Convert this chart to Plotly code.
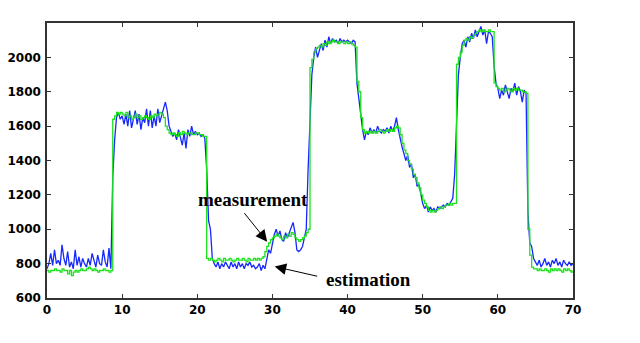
import plotly.graph_objects as go

# sampled every 0.25 s, 0 .. 70
measurement = [
    770, 800, 860, 790, 880, 800, 820, 790, 910, 830, 790, 870, 780, 810, 770, 880, 790, 840, 780, 830,
    800, 780, 830, 790, 860, 810, 780, 850, 800, 790, 880, 810, 780, 890, 770, 1300, 1520, 1650, 1680, 1640,
    1660, 1610, 1670, 1600, 1690, 1590, 1640, 1690, 1610, 1670, 1580, 1650, 1620, 1700, 1600, 1690, 1590, 1660, 1600, 1700,
    1620, 1670, 1700, 1740, 1690, 1600, 1570, 1540, 1560, 1520, 1580, 1540, 1490, 1560, 1470, 1580, 1540, 1600, 1550, 1570,
    1550, 1560, 1540, 1550, 1530, 1350, 1050, 1000, 830, 800, 780, 810, 770, 800, 780, 810, 790, 770, 810, 780,
    800, 770, 810, 780, 800, 770, 800, 790, 810, 780, 790, 770, 780, 800, 760, 790, 770, 820, 880, 860,
    920, 970, 1000, 960, 990, 940, 930, 980, 950, 980, 1010, 1040, 980, 880, 870, 880, 900, 950, 1000, 1350,
    1600, 1900, 2000, 2060, 2000, 2050, 2080, 2040, 2100, 2060, 2120, 2080, 2110, 2090, 2100, 2080, 2110, 2090, 2100, 2090,
    2100, 2090, 2080, 2100, 2090, 1850, 1750, 1650, 1580, 1520, 1570, 1550, 1590, 1560, 1580, 1560, 1600, 1570, 1560, 1580,
    1570, 1590, 1560, 1600, 1570, 1600, 1650, 1580, 1520, 1480, 1440, 1400, 1430, 1360, 1380, 1300, 1320, 1250, 1260, 1200,
    1150, 1120, 1140, 1100, 1130, 1110, 1120, 1100, 1130, 1120, 1130, 1140, 1130, 1150, 1140, 1160, 1180, 1320, 1600, 1900,
    2000, 2080, 2100, 2060, 2120, 2090, 2140, 2110, 2160, 2120, 2150, 2180, 2130, 2160, 2080, 2150, 2140, 2120, 1950, 1850,
    1820, 1760, 1810, 1780, 1840, 1790, 1760, 1820, 1800, 1850, 1780, 1830, 1800, 1740, 1810, 1790, 1100, 920, 900, 830,
    810, 790, 820, 780, 800, 830, 790, 810, 780, 820, 800, 830, 790, 810, 780, 820, 800, 790, 810, 790,
    800,
]

estimation = [
    760, 750, 760, 760, 770, 760, 760, 750, 770, 760, 760, 740, 760, 730, 750, 760, 750, 760, 770, 760,
    760, 770, 780, 770, 760, 770, 760, 750, 760, 760, 770, 760, 760, 750, 760, 1640, 1660, 1680, 1670, 1680,
    1670, 1660, 1680, 1650, 1660, 1640, 1650, 1670, 1650, 1660, 1640, 1650, 1660, 1650, 1640, 1660, 1650, 1670, 1660, 1670,
    1680, 1670, 1650, 1600, 1580, 1560, 1550, 1560, 1550, 1540, 1560, 1550, 1570, 1560, 1550, 1560, 1560, 1550, 1550, 1560,
    1560, 1550, 1550, 1540, 1540, 830, 820, 830, 820, 810, 820, 830, 820, 810, 830, 820, 820, 830, 820, 810,
    820, 830, 820, 820, 830, 820, 810, 830, 820, 820, 830, 820, 830, 820, 830, 840, 870, 900, 920, 940,
    950, 960, 970, 960, 950, 940, 960, 950, 970, 960, 980, 970, 950, 940, 930, 940, 950, 960, 980, 1000,
    1940, 1990, 2030, 2050, 2060, 2070, 2060, 2080, 2070, 2090, 2080, 2090, 2100, 2090, 2090, 2080, 2090, 2090, 2080, 2090,
    2080, 2090, 2080, 2070, 2060, 1860, 1800, 1650, 1580, 1560, 1570, 1560, 1570, 1560, 1570, 1560, 1570, 1580, 1570, 1560,
    1570, 1580, 1570, 1580, 1570, 1590, 1600, 1590, 1550, 1500, 1460, 1440, 1400, 1380, 1350, 1320, 1300, 1270, 1240, 1200,
    1170, 1150, 1130, 1110, 1100, 1110, 1100, 1110, 1120, 1130, 1120, 1130, 1140, 1140, 1150, 1140, 1150, 1150, 1960, 2000,
    2030, 2070, 2100, 2110, 2100, 2120, 2110, 2130, 2140, 2150, 2160, 2150, 2160, 2150, 2150, 2160, 2150, 2150, 1850, 1830,
    1820, 1810, 1820, 1800, 1810, 1820, 1810, 1800, 1820, 1810, 1820, 1810, 1810, 1800, 1800, 1790, 1000, 850, 780, 770,
    770, 760, 770, 760, 760, 770, 760, 750, 770, 760, 770, 760, 770, 760, 750, 770, 760, 770, 760, 750,
    760,
]

t = [i * 0.25 for i in range(len(measurement))]

x_ticks = [0, 10, 20, 30, 40, 50, 60, 70]
y_ticks = [600, 800, 1000, 1200, 1400, 1600, 1800, 2000]

fig = go.Figure()

fig.add_trace(go.Scatter(
    x=t, y=measurement, mode='lines', name='measurement',
    line=dict(color='rgb(20,40,255)', width=1.3)
))
fig.add_trace(go.Scatter(
    x=t, y=estimation, mode='lines', name='estimation',
    line=dict(color='rgb(30,225,30)', width=1.3, shape='hv')
))

label_font = dict(family='Liberation Serif', size=19, color='black')

# text labels
fig.add_annotation(x=27.45, y=1173, text='<b>measurement</b>', showarrow=False, font=label_font)
fig.add_annotation(x=42.8, y=707, text='<b>estimation</b>', showarrow=False, font=label_font)

# arrows
fig.add_annotation(x=29.3, y=928, ax=-24, ay=-30, text='', showarrow=True,
                   arrowhead=2, arrowsize=2.3, arrowwidth=1, arrowcolor='black')
fig.add_annotation(x=30.3, y=783, ax=44, ay=10, text='', showarrow=True,
                   arrowhead=2, arrowsize=2.3, arrowwidth=1, arrowcolor='black')

axis_style = dict(
    showgrid=False, zeroline=False, showline=True, linecolor='#333333', linewidth=1.5,
    mirror='ticks', ticks='inside', ticklen=4, tickcolor='#333333', automargin=False,
    tickfont=dict(family='DejaVu Sans', size=12, color='black', weight='bold')
)

fig.update_xaxes(range=[0, 70], tickvals=x_ticks, **axis_style)
fig.update_yaxes(range=[600, 2200], tickvals=y_ticks, ticklabelstandoff=2, **axis_style)

# page body adds ~8px offset, margins compensate
fig.update_layout(
    width=640, height=343,
    margin=dict(l=39, r=75, t=15, b=53),
    plot_bgcolor='white', paper_bgcolor='white',
    showlegend=False
)

fig.write_html("out.html")
